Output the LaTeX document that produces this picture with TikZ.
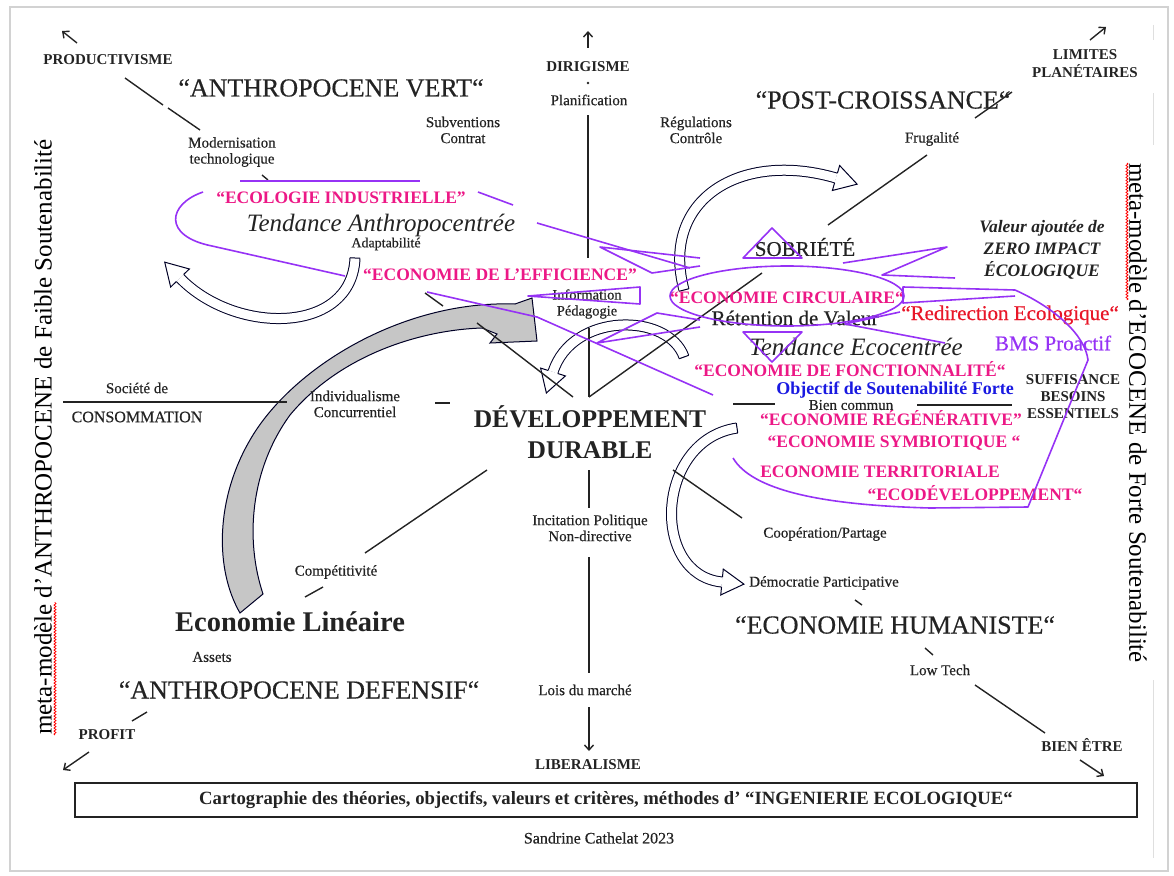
\documentclass[tikz,border=0pt]{standalone}
\usepackage{fontspec}
\setmainfont{Liberation Serif}
\newfontfamily\kraeftig{Liberation Serif}[FakeBold=0.45]
\usepackage{tikz}
\usetikzlibrary{arrows.meta, calc, positioning, decorations.pathmorphing}
\definecolor{rosa}{RGB}{236,24,134}
\definecolor{violett}{RGB}{150,50,245}
\definecolor{rot}{RGB}{232,22,40}
\definecolor{blau}{RGB}{25,25,225}
\definecolor{textgrau}{RGB}{35,35,35}

\begin{document}
\begin{tikzpicture}[x=1pt, y=-1pt,
  smalltext/.style={font=\kraeftig\fontsize{15}{16}\selectfont, align=center, inner sep=0pt, text=textgrau},
  capstext/.style={font=\bfseries\fontsize{15}{17}\selectfont, align=center, inner sep=0pt, text=textgrau},
  bigtext/.style={font=\kraeftig\fontsize{26}{30}\selectfont, inner sep=0pt, text=textgrau},
  ddtext/.style={font=\bfseries\fontsize{25.5}{31}\selectfont, align=center, inner sep=0pt, text=textgrau},
  ecotext/.style={font=\bfseries\fontsize{17.5}{20}\selectfont, inner sep=0pt, text=rosa},
  midtext/.style={font=\kraeftig\fontsize{21}{24}\selectfont, inner sep=0pt},
  tendance/.style={font=\itshape\fontsize{25}{28}\selectfont, inner sep=0pt, text=textgrau},
  metatext/.style={font=\fontsize{25}{28}\selectfont, inner sep=0pt},
  axisline/.style={line width=1.4pt, textgrau},
  arrow/.style={-{Straight Barb[length=5pt, width=9pt]}, line width=1.4pt, textgrau},
  purpleline/.style={violett, line width=1.6pt, line join=round},
  hollow/.style={draw=black!85!blue, line width=1pt, double=white, double distance=9pt},
  hollowhead/.style={draw=black!85!blue, line width=1pt},
  squiggle/.style={red, line width=0.8pt, decorate, decoration={snake, amplitude=1pt, segment length=3pt}}
]

\useasboundingbox (0,0) rectangle (1174,875);

% --- Rahmen ---
\draw[gray!35, line width=2pt] (10,7) rectangle (1168,871);
\draw[gray!25, line width=1pt] (1153,25) -- (1153,40) (1153,93) -- (1153,145) (1153,680) -- (1153,858);

% --- Endpunkte der Achsen ---
\coordinate (nordspitze) at (588,31);
\coordinate (nordfuss) at (588,48);
\coordinate (dirpunkt) at (588,83);
\coordinate (vo1) at (588,115);
\coordinate (vo2) at (588,258);
\coordinate (vm1) at (589,328);
\coordinate (zentrum) at (589,397);
\coordinate (vu1) at (589,470);
\coordinate (vu2) at (589,508);
\coordinate (vu3) at (589,557);
\coordinate (vu4) at (589,673);
\coordinate (suedfuss) at (589,707);
\coordinate (suedspitze) at (589,751);

\coordinate (wl1) at (63,402);
\coordinate (wl2) at (287,402);
\coordinate (wk1) at (435,403);
\coordinate (wk2) at (450,403);
\coordinate (ok1) at (733,404);
\coordinate (ok2) at (775,404);
\coordinate (ol1) at (917,405);
\coordinate (ol2) at (1012,405);

\coordinate (nwfuss) at (77,43);
\coordinate (nwspitze) at (62,31);
\coordinate (nw1) at (125,78);
\coordinate (nw2) at (163,105);
\coordinate (nw3) at (168,108);
\coordinate (nw4) at (200,130);
\coordinate (nw5) at (262,175);
\coordinate (nw6) at (268,180);
\coordinate (nw7) at (425,293);
\coordinate (nw8) at (443,306);
\coordinate (nw9) at (477,323);
\coordinate (nwz) at (573,397);

\coordinate (no1) at (762,273);
\coordinate (no2) at (828,225);
\coordinate (no3) at (927,155);
\coordinate (no4) at (975,118);
\coordinate (no5) at (1012,92);
\coordinate (nofuss) at (1090,40);
\coordinate (nospitze) at (1106,27);

\coordinate (sw1) at (487,470);
\coordinate (sw2) at (365,553);
\coordinate (sw3) at (323,587);
\coordinate (sw4) at (305,597);
\coordinate (sw5) at (147,712);
\coordinate (sw6) at (132,721);
\coordinate (swfuss) at (89,752);
\coordinate (swspitze) at (63,770);

\coordinate (so1) at (673,470);
\coordinate (so2) at (742,518);
\coordinate (so3) at (855,600);
\coordinate (so4) at (862,605);
\coordinate (so5) at (925,648);
\coordinate (so6) at (933,655);
\coordinate (so7) at (975,685);
\coordinate (so8) at (1045,733);
\coordinate (sofuss) at (1080,760);
\coordinate (sospitze) at (1104,776);

% --- hohle Pfeile ---
% Adaptabilite
\coordinate (a1s) at (355,258);
\coordinate (a1c) at (352,335);
\coordinate (a1d) at (235,335);
\coordinate (a1e) at (180,278);
\draw[hollow] (a1s) .. controls (a1c) and (a1d) .. (a1e);
\draw[hollowhead] ($(a1s)!5pt!90:(a1c)$) -- ($(a1s)!5pt!-90:(a1c)$);
\fill[white] ($(a1e)!13pt!90:(a1d)$) -- ($(a1e)!-22pt!(a1d)$) -- ($(a1e)!13pt!-90:(a1d)$) -- cycle;
\draw[hollowhead] ($(a1e)!5pt!90:(a1d)$) -- ($(a1e)!13pt!90:(a1d)$) -- ($(a1e)!-22pt!(a1d)$) -- ($(a1e)!13pt!-90:(a1d)$) -- ($(a1e)!5pt!-90:(a1d)$);

% Pedagogie
\coordinate (a2s) at (684,357);
\coordinate (a2c) at (668,312);
\coordinate (a2d) at (572,312);
\coordinate (a2e) at (553,372);
\draw[hollow] (a2s) .. controls (a2c) and (a2d) .. (a2e);
\draw[hollowhead] ($(a2s)!5pt!90:(a2c)$) -- ($(a2s)!5pt!-90:(a2c)$);
\fill[white] ($(a2e)!13pt!90:(a2d)$) -- ($(a2e)!-22pt!(a2d)$) -- ($(a2e)!13pt!-90:(a2d)$) -- cycle;
\draw[hollowhead] ($(a2e)!5pt!90:(a2d)$) -- ($(a2e)!13pt!90:(a2d)$) -- ($(a2e)!-22pt!(a2d)$) -- ($(a2e)!13pt!-90:(a2d)$) -- ($(a2e)!5pt!-90:(a2d)$);

% Sobriete
\coordinate (a3s) at (684,290);
\coordinate (a3c) at (660,200);
\coordinate (a3d) at (740,150);
\coordinate (a3e) at (836,178);
\draw[hollow] (a3s) .. controls (a3c) and (a3d) .. (a3e);
\draw[hollowhead] ($(a3s)!5pt!90:(a3c)$) -- ($(a3s)!5pt!-90:(a3c)$);
\fill[white] ($(a3e)!13pt!90:(a3d)$) -- ($(a3e)!-22pt!(a3d)$) -- ($(a3e)!13pt!-90:(a3d)$) -- cycle;
\draw[hollowhead] ($(a3e)!5pt!90:(a3d)$) -- ($(a3e)!13pt!90:(a3d)$) -- ($(a3e)!-22pt!(a3d)$) -- ($(a3e)!13pt!-90:(a3d)$) -- ($(a3e)!5pt!-90:(a3d)$);

% Cooperation
\coordinate (a4s) at (737,428);
\coordinate (a4c) at (655,440);
\coordinate (a4d) at (650,575);
\coordinate (a4e) at (722,582);
\draw[hollow] (a4s) .. controls (a4c) and (a4d) .. (a4e);
\draw[hollowhead] ($(a4s)!5pt!90:(a4c)$) -- ($(a4s)!5pt!-90:(a4c)$);
\fill[white] ($(a4e)!13pt!90:(a4d)$) -- ($(a4e)!-22pt!(a4d)$) -- ($(a4e)!13pt!-90:(a4d)$) -- cycle;
\draw[hollowhead] ($(a4e)!5pt!90:(a4d)$) -- ($(a4e)!13pt!90:(a4d)$) -- ($(a4e)!-22pt!(a4d)$) -- ($(a4e)!13pt!-90:(a4d)$) -- ($(a4e)!5pt!-90:(a4d)$);

% --- grauer Pfeil ---
\filldraw[fill=gray!45, draw=black!85!blue, line width=1pt]
  (263,594) .. controls (245,540) and (250,470) .. (290,415)
  .. controls (340,355) and (420,330) .. (482,328)
  -- (497,334) -- (490,343) -- (537,341) -- (532,298) -- (515,304)
  .. controls (400,300) and (290,370) .. (250,440)
  .. controls (215,500) and (215,570) .. (240,613) -- cycle;

% --- Achsen ---
\draw[arrow] (nordfuss) -- (nordspitze);
\fill[textgrau] (dirpunkt) circle (1.4pt);
\draw[axisline] (vo1) -- (vo2);
\draw[axisline] (vm1) -- (zentrum);
\draw[axisline] (vu1) -- (vu2);
\draw[axisline] (vu3) -- (vu4);
\draw[arrow] (suedfuss) -- (suedspitze);

\draw[axisline] (wl1) -- (wl2);
\draw[axisline] (wk1) -- (wk2);
\draw[axisline] (ok1) -- (ok2);
\draw[axisline] (ol1) -- (ol2);

\draw[arrow] (nwfuss) -- (nwspitze);
\draw[axisline] (nw1) -- (nw2);
\draw[axisline] (nw3) -- (nw4);
\draw[axisline] (nw5) -- (nw6);
\draw[axisline] (nw7) -- (nw8);
\draw[axisline] (nw9) -- (nwz);

\draw[axisline] (zentrum) -- (no1);
\draw[axisline] (no2) -- (no3);
\draw[axisline] (no4) -- (no5);
\draw[arrow] (nofuss) -- (nospitze);

\draw[axisline] (sw1) -- (sw2);
\draw[axisline] (sw3) -- (sw4);
\draw[axisline] (sw5) -- (sw6);
\draw[arrow] (swfuss) -- (swspitze);

\draw[axisline] (so1) -- (so2);
\draw[axisline] (so3) -- (so4);
\draw[axisline] (so5) -- (so6);
\draw[axisline] (so7) -- (so8);
\draw[arrow] (sofuss) -- (sospitze);

% --- Texte oben ---
\node[capstext] (productivisme) at (108,60) {PRODUCTIVISME};
\node[bigtext] (anthrovert) at (331,88) {“ANTHROPOCENE VERT“};
\node[smalltext] (modernisation) at (232,152) {Modernisation\\technologique};
\node[smalltext] (subventions) at (463,130) {Subventions\\Contrat};
\node[capstext] (dirigisme) at (588,67) {DIRIGISME};
\node[smalltext] (planification) at (589,100) {Planification};
\node[smalltext] (regulations) at (696,130) {Régulations\\Contrôle};
\node[bigtext] (postcroissance) at (883,100) {“POST-CROISSANCE“};
\node[capstext, font=\bfseries\fontsize{15}{18}\selectfont] (limites) at (1085,64) {LIMITES\\PLANÉTAIRES};
\node[smalltext] (frugalite) at (932,139) {Frugalité};

% --- Tendance Anthropocentree ---
\node[ecotext] (ecologie) at (341,198) {“ECOLOGIE INDUSTRIELLE"};
\node[tendance] (tendanceanthro) at (381,225) {Tendance Anthropocentrée};
\node[smalltext, font=\kraeftig\fontsize{14}{16}\selectfont] (adaptabilite) at (386,244) {Adaptabilité};
\node[ecotext] (efficience) at (500,275) {“ECONOMIE DE L'EFFICIENCE"};
\node[smalltext, font=\kraeftig\fontsize{14.5}{16}\selectfont] (information) at (587,304) {Information\\Pédagogie};

% --- Tendance Ecocentree ---
\node[midtext, text=textgrau] (sobriete) at (805,247) {SOBRIÉTÉ};
\node[font=\bfseries\itshape\fontsize{17.5}{22}\selectfont, align=center, inner sep=0pt, text=textgrau] (valeur) at (1042,250) {Valeur ajoutée de\\ZERO IMPACT\\ÉCOLOGIQUE};
\node[ecotext] (circulaire) at (787,298) {“ECONOMIE CIRCULAIRE“};
\node[midtext, text=textgrau] (retention) at (795,318) {Rétention de Valeur};
\node[tendance] (ecocentree) at (856,347) {Tendance Ecocentrée};
\node[midtext, text=rot] (redirection) at (1010,315) {“Redirection Ecologique“};
\node[midtext, text=violett] (bms) at (1053,343) {BMS Proactif};
\node[ecotext] (fonctionnalite) at (850,369) {“ECONOMIE DE FONCTIONNALITÉ“};
\node[font=\bfseries\fontsize{18}{20}\selectfont, inner sep=0pt, text=blau] (objectif) at (895,390.5) {Objectif de Soutenabilité Forte};
\node[smalltext] (biencommun) at (851,405) {Bien commun};
\node[ecotext] (regenerative) at (891,418) {“ECONOMIE RÉGÉNÉRATIVE"};
\node[ecotext] (symbiotique) at (894,443) {“ECONOMIE SYMBIOTIQUE “};
\node[ecotext] (territoriale) at (880,472) {ECONOMIE TERRITORIALE};
\node[ecotext] (ecodeveloppement) at (975,493) {“ECODÉVELOPPEMENT“};
\node[capstext] (suffisance) at (1073,397) {SUFFISANCE\\BESOINS\\ESSENTIELS};

% --- Mitte ---
\node[smalltext] (societe) at (137,388) {Société de};
\node[smalltext, font=\kraeftig\fontsize{16}{17}\selectfont] (consommation) at (137,417) {CONSOMMATION};
\node[smalltext] (individualisme) at (355,404) {Individualisme\\Concurrentiel};
\node[ddtext] (dd) at (590,432) {DÉVELOPPEMENT\\DURABLE};
\node[smalltext] (incitation) at (590,528) {Incitation Politique\\Non-directive};

% --- Texte unten ---
\node[smalltext] (competitivite) at (336,572) {Compétitivité};
\node[font=\bfseries\fontsize{28.5}{30}\selectfont, inner sep=0pt, text=textgrau] (lineaire) at (290,622) {Economie Linéaire};
\node[smalltext] (assets) at (212,657) {Assets};
\node[bigtext] (defensif) at (299,690) {“ANTHROPOCENE DEFENSIF“};
\node[capstext] (profit) at (107,735) {PROFIT};
\node[smalltext] (lois) at (585,690) {Lois du marché};
\node[capstext] (liberalisme) at (588,765) {LIBERALISME};
\node[smalltext] (cooperation) at (825,534) {Coopération/Partage};
\node[smalltext] (democratie) at (824,583) {Démocratie Participative};
\node[bigtext] (humaniste) at (895,625) {“ECONOMIE HUMANISTE“};
\node[smalltext] (lowtech) at (940,670) {Low Tech};
\node[capstext] (bienetre) at (1082,745) {BIEN ÊTRE};

% --- Meta-Modelle seitlich ---
\node[metatext, rotate=90] (metagauche) at (43,437) {meta-modèle d’ANTHROPOCENE de Faible Soutenabilité};
\node[metatext, rotate=-90] (metadroite) at (1138,413) {meta-modèle d’ECOCENE de Forte Soutenabilité};
\draw[squiggle] (55,735) -- (55,602);
\draw[squiggle] (1127,163) -- (1127,300);

% --- Legende ---
\node[draw=textgrau, line width=1.3pt, minimum width=1062pt, minimum height=34pt, font=\bfseries\fontsize{18.7}{20}\selectfont, text=textgrau] (cartographie) at (606,800) {Cartographie des théories, objectifs, valeurs et critères, méthodes d’ “INGENIERIE ECOLOGIQUE“};
\node[smalltext, font=\kraeftig\fontsize{16}{17}\selectfont] (sandrine) at (599,838) {Sandrine Cathelat 2023};

% --- violette Umrandung ---
\draw[purpleline] (240,181) -- (420,181);
\draw[purpleline] (203,192) .. controls (168,204) and (162,236) .. (212,246) -- (345,276);
\draw[purpleline] (478,192) -- (513,205);
\draw[purpleline] (537,223) -- (690,268);
\draw[purpleline] (700,258) -- (600,247) -- (652,273) -- (700,266);
\draw[purpleline] (640,287) -- (528,296) -- (640,304) -- cycle;
\draw[purpleline] (427,292) -- (537,317) -- (713,395);
\draw[purpleline] (700,327) -- (597,343) -- (657,313) -- (700,320);
\draw[purpleline] (787,296) ellipse [x radius=117pt, y radius=30pt];
\draw[purpleline] (743,258) -- (772,228) -- (802,258) -- cycle;
\draw[purpleline] (743,332) -- (802,332) -- (772,362) -- cycle;
\draw[purpleline] (843,263) -- (947,247) -- (882,275) -- (955,278);
\draw[purpleline] (1015,290) -- (903,287) -- (903,303) -- (1015,296);
\draw[purpleline] (1015,290) .. controls (1055,308) and (1085,335) .. (1088,360) -- (1028,507) -- (930,508) .. controls (820,505) and (752,490) .. (733,458);
\draw[purpleline] (900,312) -- (845,324) -- (945,343);

\end{tikzpicture}
\end{document}
